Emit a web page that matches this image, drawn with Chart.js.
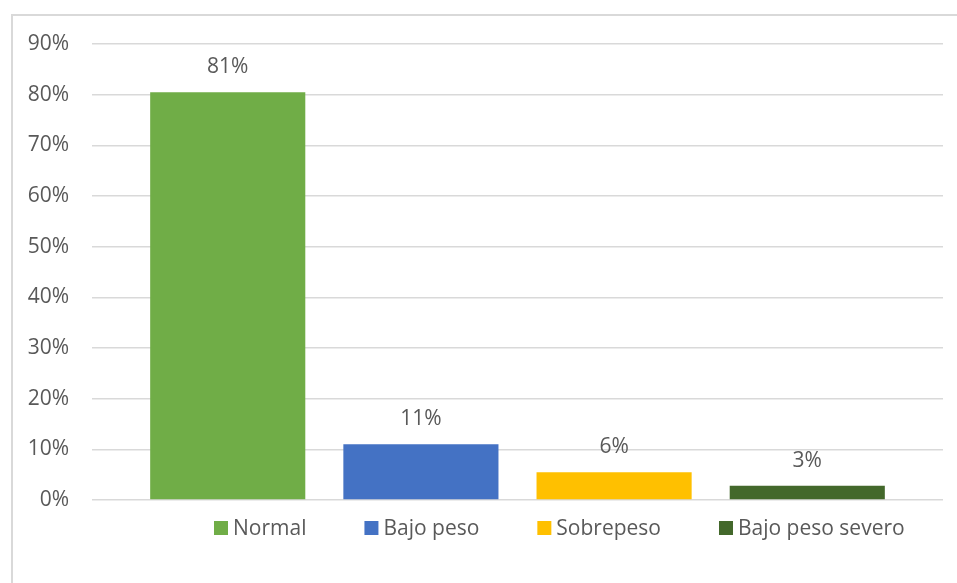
<!DOCTYPE html>
<html>
<head>
<meta charset="utf-8">
<script src="https://cdn.jsdelivr.net/npm/chart.js@4/dist/chart.umd.min.js"></script>
<style>
  body { margin: 0; background: #fff; overflow: hidden; }
  #frame { position: absolute; left: 11px; top: 14px; width: 1000px; height: 1000px; border: 2px solid #d9d9d9; }
  #chart { position: absolute; left: 0; top: 0; }
</style>
</head>
<body>
<div id="frame"></div>
<canvas id="chart" width="957" height="583"></canvas>
<script>
// values
const categories = ['Normal', 'Bajo peso', 'Sobrepeso', 'Bajo peso severo']
const values = [0.805, 0.11, 0.055, 0.028]
const valueLabels = ['81%', '11%', '6%', '3%']
const colors = ['#70AD47', '#4472C4', '#FFC000', '#43682B']
const yTicks = [0, 0.1, 0.2, 0.3, 0.4, 0.5, 0.6, 0.7, 0.8, 0.9]

const FONT = '"Open Sans"'
const SIZE = 21
const TEXT = '#595959'

// number above each bar
const barLabels = {
  id: 'barLabels',
  afterDatasetsDraw(chart) {
    const ctx = chart.ctx
    ctx.save()
    ctx.font = SIZE + 'px ' + FONT
    ctx.fillStyle = TEXT
    ctx.textAlign = 'center'
    ctx.textBaseline = 'middle'
    chart.data.datasets.forEach((ds, i) => {
      const bar = chart.getDatasetMeta(i).data[0]
      ctx.fillText(valueLabels[i], bar.x, bar.y - 25)
    })
    ctx.restore()
  }
}

// legend row under the plot, like the excel one
const bottomLegend = {
  id: 'bottomLegend',
  afterDraw(chart, args, opts) {
    const ctx = chart.ctx
    ctx.save()
    ctx.font = SIZE + 'px ' + FONT
    ctx.textBaseline = 'middle'
    let x = opts.x
    const y = opts.y
    chart.data.datasets.forEach((ds) => {
      ctx.fillStyle = ds.backgroundColor
      ctx.fillRect(x, y - 7, 14, 14)
      x += 14 + 5
      ctx.fillStyle = TEXT
      ctx.fillText(ds.label, x, y + 1)
      x += ctx.measureText(ds.label).width + 58
    })
    ctx.restore()
  }
}

const ctx = document.getElementById('chart').getContext('2d')
const chart = new Chart(ctx, {
  type: 'bar',
  data: {
    labels: [''],
    datasets: categories.map((c, i) => ({
      label: c,
      data: [values[i]],
      backgroundColor: colors[i],
      borderWidth: 0
    }))
  },
  options: {
    responsive: false,
    animation: false,
    categoryPercentage: 0.908,
    barPercentage: 0.803,
    layout: { padding: { top: 44, right: 14, bottom: 83, left: 0 } },
    plugins: {
      legend: { display: false },
      tooltip: { enabled: false },
      bottomLegend: { x: 214, y: 528 }
    },
    scales: {
      x: {
        grid: { display: false },
        border: { display: false },
        ticks: { display: false },
        afterFit: (s) => { s.height = 0 }
      },
      y: {
        min: 0,
        max: 0.9,
        afterFit: (s) => { s.width = 92 },
        afterBuildTicks: (s) => { s.ticks = yTicks.map(v => ({ value: v })) },
        grid: { color: '#d9d9d9', lineWidth: 1.5, drawTicks: false },
        border: { display: false },
        ticks: {
          padding: 23,
          color: TEXT,
          font: { family: FONT, size: SIZE },
          callback: (v) => Math.round(v * 100) + '%'
        }
      }
    }
  },
  plugins: [barLabels, bottomLegend]
})
</script>
</body>
</html>
